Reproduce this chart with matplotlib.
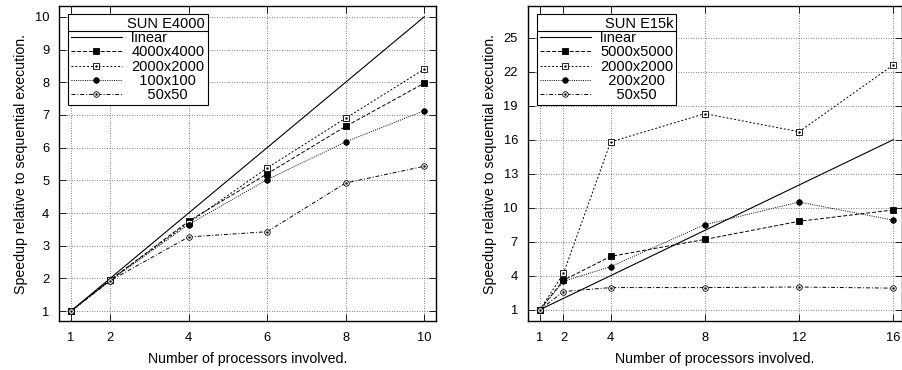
import matplotlib.pyplot as plt
from matplotlib.legend_handler import HandlerTuple
from matplotlib.lines import Line2D

plt.rcParams['font.family'] = ['Liberation Sans', 'DejaVu Sans']
plt.rcParams['font.size'] = 9.5

# left panel: SUN E4000
procs_a = [1, 2, 4, 6, 8, 10]
linear_a = [1, 2, 4, 6, 8, 10]
s4000 = [1, 1.95, 3.75, 5.2, 6.65, 7.97]
s2000_a = [1, 1.95, 3.7, 5.38, 6.9, 8.4]
s100 = [1, 1.93, 3.65, 5.02, 6.18, 7.13]
s50_a = [1, 1.93, 3.27, 3.43, 4.92, 5.43]

# right panel: SUN E15k
procs_b = [1, 2, 4, 8, 12, 16]
linear_b = [1, 2, 4, 8, 12, 16]
s5000 = [1, 3.6, 5.7, 7.2, 8.8, 9.8]
s2000_b = [1, 4.2, 15.8, 18.3, 16.7, 22.6]
s200 = [1, 3.5, 4.8, 8.5, 10.5, 8.9]
s50_b = [1, 2.6, 2.95, 2.95, 3.0, 2.9]

yticks_a = [1, 2, 3, 4, 5, 6, 7, 8, 9, 10]
yticks_b = [1, 4, 7, 10, 13, 16, 19, 22, 25]

DASH = (0, (4, 2))
SHORT = (0, (2, 2))
DOT = (0, (1, 1.3))
DASHDOT = (0, (4, 2, 1, 2))


def panel(ax, x, lin, series, names, title, yticks, xlim, ylim):
    handles = []
    h, = ax.plot(x, lin, color='black', lw=0.8)
    handles.append(h)
    styles = [
        (DASH, 's', 'black', False),
        (SHORT, 's', 'white', True),
        (DOT, 'o', 'black', False),
        (DASHDOT, 'o', 'white', True),
    ]
    for ys, (ls, mk, fc, dot) in zip(series, styles):
        ms = 4.6 if mk == 's' else 4.0
        h, = ax.plot(x, ys, color='black', lw=0.7, linestyle=ls, marker=mk,
                     markersize=ms, markerfacecolor=fc, markeredgecolor='black',
                     markeredgewidth=0.6)
        if dot:
            d, = ax.plot(x, ys, linestyle='none', marker='.', markersize=1.5,
                         color='black')
            handles.append((h, d))
        else:
            handles.append(h)

    ax.set_xlim(*xlim)
    ax.set_ylim(*ylim)
    ax.set_xticks(x)
    ax.set_yticks(yticks)
    ax.grid(True, color='#555555', linestyle=(0, (1, 2)), lw=0.6)
    ax.tick_params(direction='in', top=True, right=True, length=5, width=0.6,
                   labelsize=9.3)
    ax.tick_params(axis='x', pad=8)
    ax.tick_params(axis='y', pad=7)
    for s in ax.spines.values():
        s.set_linewidth(1.0)
    ax.set_xlabel('Number of processors involved.', fontsize=10.2, labelpad=6)
    ax.set_ylabel('Speedup relative to sequential execution.', fontsize=10.2,
                  labelpad=5)

    leg = ax.legend(handles, names, title=title, loc='upper left',
                    bbox_to_anchor=(0.024, 0.975), borderaxespad=0,
                    fancybox=False, edgecolor='black', framealpha=1,
                    fontsize=10.5, title_fontsize=10.5, handlelength=3.5,
                    handletextpad=0.65, labelspacing=0.02, borderpad=0.2,
                    alignment='right',
                    handler_map={tuple: HandlerTuple(ndivide=1)})
    leg.get_frame().set_linewidth(0.8)
    return leg


fig = plt.figure(figsize=(9.02, 3.70), dpi=100)
ax1 = fig.add_axes([0.0654, 0.1324, 0.418, 0.8514])
ax2 = fig.add_axes([0.585, 0.1324, 0.4145, 0.8514])

leg1 = panel(ax1, procs_a, linear_a, [s4000, s2000_a, s100, s50_a],
             ['linear', '4000x4000', '2000x2000', '  100x100', '    50x50'],
             'SUN E4000', yticks_a, (0.7, 10.3), (0.7, 10.33))
leg2 = panel(ax2, procs_b, linear_b, [s5000, s2000_b, s200, s50_b],
             ['linear', '5000x5000', '2000x2000', '  200x200', '    50x50'],
             'SUN E15k', yticks_b, (0.48, 16.35), (0.0, 27.8))

# separator line under the legend title, as in the original
fig.canvas.draw()
r = fig.canvas.get_renderer()
inv = fig.transFigure.inverted()
for leg in (leg1, leg2):
    fb = leg.get_frame().get_window_extent(r)
    tb = leg.get_title().get_window_extent(r)
    ysep = tb.y0 - 0.5
    (x0, y0), (x1, y1) = inv.transform([(fb.x0, ysep), (fb.x1, ysep)])
    fig.add_artist(Line2D([x0, x1], [y0, y1], color='black', lw=0.8))

fig.savefig('out.png', dpi=100)
